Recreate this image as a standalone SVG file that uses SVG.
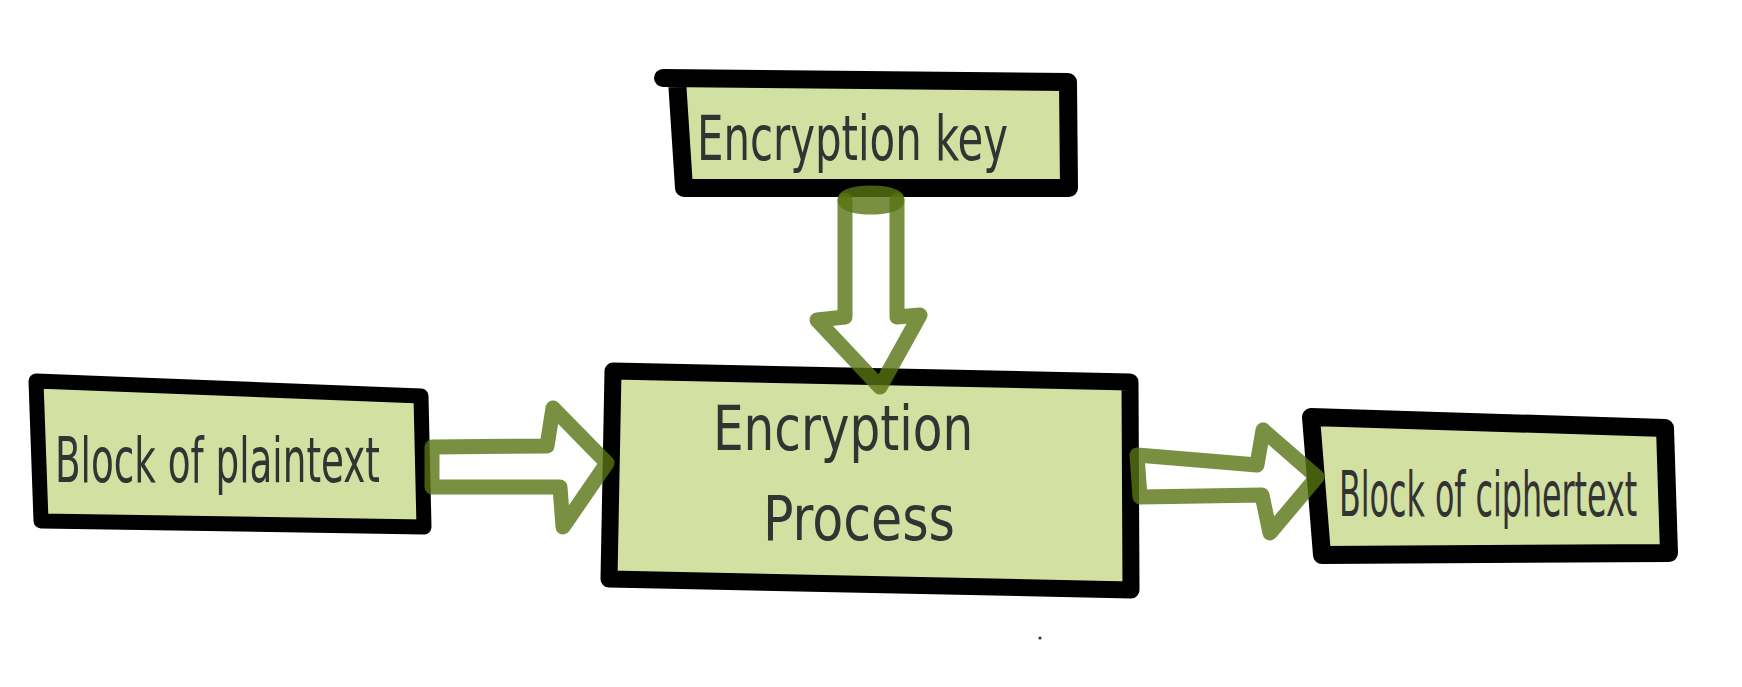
<svg xmlns="http://www.w3.org/2000/svg" width="1742" height="687" viewBox="0 0 1742 687">
<style>
.box{fill:#d2e0a2;stroke:#000;stroke-linejoin:round;stroke-linecap:round}
.arr{fill:none;stroke:#587312;stroke-opacity:0.8;stroke-width:15;stroke-linejoin:round;stroke-linecap:round}
.lbl{font-family:"Liberation Sans Narrow","DejaVu Sans Condensed","Liberation Sans",sans-serif;fill:#333;font-size:62px}
</style>
<rect width="1742" height="687" fill="#fff"/>
<g id="node-key">
<path class="box" stroke-width="18" d="M663,78 L1068,82 L1069,188 L684,188 L677,80"/>
<text class="lbl" x="0" y="0" transform="translate(697 160) scale(0.746 1)" textLength="417" lengthAdjust="spacingAndGlyphs">Encryption key</text>
</g>
<g id="node-plaintext">
<path class="box" stroke-width="15" d="M36,381 L421,396 L424,527 L41,521 Z"/>
<text class="lbl" x="0" y="0" font-size="66" transform="translate(55 482) scale(0.626 1)" textLength="519" lengthAdjust="spacingAndGlyphs">Block of plaintext</text>
</g>
<g id="node-process">
<path class="box" stroke-width="17" d="M613,371 L1130,382 L1131,590 L609,579 Z"/>
<text class="lbl" x="0" y="0" transform="translate(713 450) scale(0.867 1)" textLength="300" lengthAdjust="spacingAndGlyphs">Encryption</text>
<text class="lbl" x="0" y="0" transform="translate(763 540) scale(0.897 1)" textLength="214" lengthAdjust="spacingAndGlyphs">Process</text>
</g>
<g id="node-ciphertext">
<path class="box" stroke-width="18" d="M1311,417 L1665,428 L1669,553 L1322,555 Z"/>
<text class="lbl" x="0" y="0" font-size="58" transform="translate(1339 516) scale(0.606 1)" textLength="492" lengthAdjust="spacingAndGlyphs">Block of ciphertext</text>
</g>
<g id="connectors">
<path class="arr" d="M432,447 L547,446 L553,408 L607,463 L563,527 L560,487 L432,487 Z"/>
<path class="arr" d="M845,200 L845,317 L817,320 L880,387 L920,315 L897,317 L897,200"/>
<ellipse class="arr" cx="871" cy="200" rx="26" ry="7"/>
<path class="arr" d="M1137,455 L1257,465 L1263,430 L1317,477 L1270,533 L1262,495 L1140,497 Z"/>
</g>
<circle cx="1040" cy="638" r="1.6" fill="#333"/>
</svg>
